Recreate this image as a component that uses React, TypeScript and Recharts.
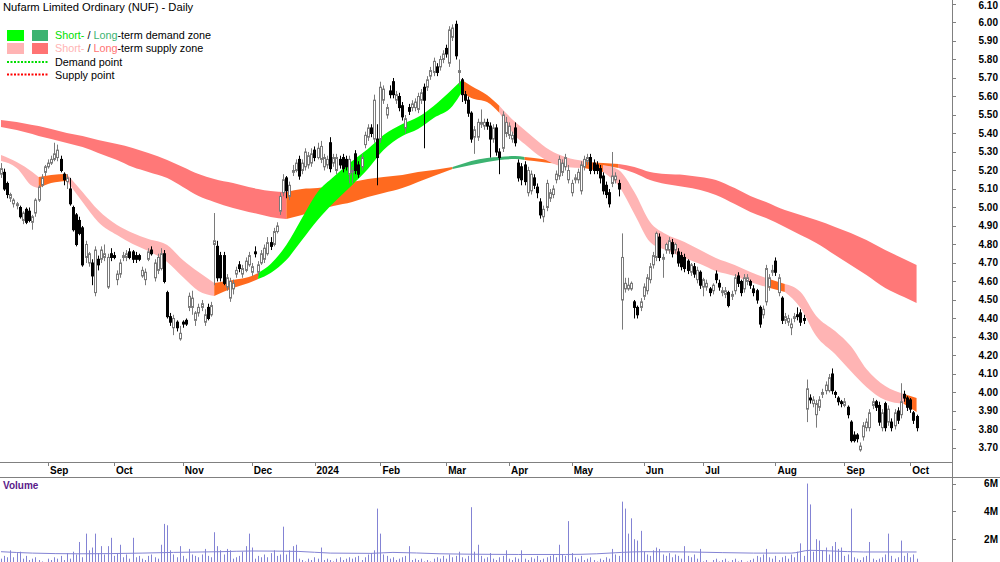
import React from "react";
import { ComposedChart, Bar, Area, Line, XAxis, YAxis } from "recharts";

// daily candles, Aug 11 2023 .. Oct 3 2024: [open, high, low, close]
const ohlc: [number, number, number, number][] = [
  [5.18,5.24,5.16,5.21],[5.19,5.21,5.09,5.10],[5.13,5.14,5.05,5.07],[5.05,5.08,5.03,5.07],[5.02,5.05,5.00,5.04],[5.01,5.03,4.99,5.02],[5.00,5.01,4.94,4.95],[4.93,4.98,4.91,4.97],[4.99,5.00,4.91,4.92],[4.98,5.00,4.92,4.93],
  [4.92,4.96,4.88,4.95],[4.97,5.05,4.95,5.04],[5.04,5.12,5.03,5.11],[5.12,5.18,5.11,5.16],[5.19,5.23,5.17,5.22],[5.22,5.26,5.21,5.24],[5.24,5.28,5.23,5.26],[5.26,5.35,5.25,5.29],[5.27,5.34,5.25,5.31],[5.26,5.28,5.19,5.20],
  [5.18,5.19,5.12,5.15],[5.14,5.18,5.10,5.16],[5.10,5.16,5.01,5.02],[5.00,5.01,4.87,4.88],[4.96,4.97,4.79,4.80],[4.93,4.95,4.85,4.86],[4.89,4.90,4.68,4.69],[4.73,4.82,4.70,4.80],[4.70,4.76,4.68,4.75],[4.70,4.72,4.58,4.63],
  [4.54,4.79,4.52,4.77],[4.72,4.74,4.66,4.69],[4.72,4.79,4.70,4.77],[4.73,4.80,4.71,4.75],[4.57,4.75,4.56,4.73],[4.75,4.78,4.71,4.73],[4.74,4.76,4.72,4.73],[4.61,4.66,4.58,4.64],[4.64,4.72,4.62,4.70],[4.73,4.76,4.71,4.74],
  [4.73,4.77,4.71,4.75],[4.76,4.78,4.72,4.73],[4.76,4.77,4.70,4.72],[4.74,4.76,4.70,4.72],[4.74,4.75,4.71,4.72],[4.63,4.68,4.62,4.66],[4.61,4.67,4.58,4.65],[4.72,4.78,4.71,4.76],[4.77,4.79,4.74,4.75],[4.62,4.72,4.60,4.70],
  [4.66,4.75,4.64,4.73],[4.67,4.78,4.66,4.75],[4.75,4.77,4.59,4.60],[4.54,4.55,4.40,4.41],[4.41,4.43,4.36,4.38],[4.35,4.42,4.31,4.40],[4.38,4.39,4.33,4.35],[4.29,4.36,4.28,4.32],[4.38,4.39,4.35,4.37],[4.39,4.40,4.36,4.37],
  [4.46,4.54,4.44,4.52],[4.46,4.55,4.42,4.51],[4.39,4.44,4.36,4.43],[4.43,4.48,4.41,4.46],[4.46,4.50,4.44,4.48],[4.38,4.45,4.36,4.42],[4.46,4.48,4.39,4.40],[4.42,4.49,4.41,4.47],[4.80,4.97,4.58,4.82],[4.79,4.82,4.60,4.62],
  [4.74,4.76,4.60,4.62],[4.74,4.76,4.58,4.59],[4.57,4.64,4.55,4.62],[4.51,4.62,4.49,4.60],[4.56,4.61,4.53,4.59],[4.64,4.68,4.62,4.66],[4.69,4.71,4.65,4.67],[4.64,4.69,4.62,4.67],[4.66,4.73,4.65,4.71],[4.69,4.76,4.68,4.74],
  [4.65,4.70,4.63,4.68],[4.76,4.79,4.73,4.75],[4.65,4.71,4.63,4.69],[4.70,4.77,4.69,4.75],[4.72,4.80,4.70,4.78],[4.75,4.84,4.74,4.81],[4.81,4.84,4.77,4.79],[4.80,4.89,4.79,4.87],[4.87,4.92,4.86,4.90],[4.98,5.08,4.96,5.06],
  [5.08,5.18,5.06,5.15],[5.16,5.17,5.05,5.09],[5.06,5.14,5.04,5.12],[5.19,5.23,5.17,5.20],[5.20,5.26,5.19,5.24],[5.26,5.28,5.15,5.17],[5.20,5.26,5.18,5.24],[5.22,5.32,5.20,5.30],[5.23,5.30,5.21,5.28],[5.24,5.32,5.22,5.29],
  [5.31,5.33,5.25,5.27],[5.27,5.35,5.26,5.32],[5.26,5.36,5.24,5.33],[5.22,5.29,5.20,5.27],[5.23,5.28,5.21,5.26],[5.35,5.38,5.19,5.21],[5.24,5.29,5.22,5.27],[5.20,5.29,5.18,5.27],[5.26,5.28,5.21,5.23],[5.27,5.29,5.19,5.21],
  [5.26,5.28,5.20,5.22],[5.18,5.28,5.13,5.26],[5.19,5.22,5.13,5.20],[5.29,5.31,5.18,5.20],[5.23,5.25,5.16,5.18],[5.22,5.29,5.20,5.27],[5.34,5.41,5.32,5.39],[5.38,5.45,5.36,5.43],[5.43,5.45,5.38,5.40],[5.37,5.61,5.35,5.58],
  [5.37,5.45,5.12,5.27],[5.37,5.68,5.35,5.65],[5.58,5.66,5.56,5.64],[5.50,5.56,5.48,5.54],[5.63,5.66,5.59,5.61],[5.68,5.70,5.59,5.61],[5.58,5.63,5.56,5.61],[5.60,5.62,5.52,5.54],[5.55,5.57,5.47,5.49],[5.43,5.50,5.40,5.48],
  [5.54,5.56,5.50,5.52],[5.54,5.58,5.52,5.56],[5.54,5.59,5.52,5.57],[5.53,5.62,5.51,5.60],[5.58,5.64,5.56,5.62],[5.65,5.67,5.32,5.58],[5.65,5.71,5.63,5.69],[5.71,5.76,5.69,5.74],[5.73,5.81,5.71,5.79],[5.76,5.78,5.71,5.73],
  [5.76,5.82,5.74,5.80],[5.80,5.85,5.78,5.83],[5.86,5.88,5.81,5.83],[5.78,5.98,5.76,5.96],[5.92,5.99,5.90,5.97],[5.99,6.01,5.80,5.82],[5.73,5.80,5.66,5.74],[5.69,5.70,5.57,5.61],[5.61,5.63,5.56,5.58],[5.58,5.60,5.49,5.51],
  [5.51,5.52,5.35,5.37],[5.38,5.44,5.29,5.42],[5.38,5.48,5.36,5.46],[5.45,5.53,5.43,5.46],[5.44,5.48,5.42,5.46],[5.46,5.48,5.42,5.44],[5.44,5.46,5.27,5.37],[5.37,5.45,5.35,5.43],[5.43,5.45,5.28,5.30],[5.30,5.32,5.18,5.27],
  [5.32,5.52,5.30,5.50],[5.40,5.49,5.38,5.46],[5.39,5.46,5.37,5.44],[5.37,5.41,5.35,5.39],[5.43,5.46,5.33,5.35],[5.24,5.26,5.14,5.16],[5.22,5.24,5.12,5.15],[5.23,5.25,5.12,5.14],[5.08,5.22,5.06,5.20],[5.09,5.20,5.07,5.18],
  [5.16,5.18,5.10,5.12],[5.11,5.13,5.05,5.08],[5.03,5.05,4.94,4.96],[4.95,5.01,4.92,4.99],[5.00,5.15,4.98,5.13],[5.05,5.10,5.03,5.08],[5.07,5.12,5.05,5.10],[5.15,5.20,5.13,5.18],[5.17,5.28,5.15,5.26],[5.19,5.26,5.17,5.24],
  [5.22,5.29,5.20,5.27],[5.15,5.23,5.13,5.20],[5.08,5.15,5.06,5.13],[5.15,5.18,5.13,5.16],[5.15,5.21,5.13,5.19],[5.09,5.25,5.07,5.23],[5.22,5.28,5.20,5.26],[5.25,5.29,5.23,5.27],[5.27,5.29,5.18,5.20],[5.24,5.26,5.18,5.20],
  [5.23,5.25,5.18,5.20],[5.21,5.23,5.13,5.16],[5.17,5.19,5.07,5.09],[5.12,5.14,5.05,5.07],[5.08,5.10,5.00,5.02],[5.13,5.30,5.11,5.17],[5.15,5.19,5.13,5.17],[5.13,5.15,5.06,5.10],[4.50,4.86,4.34,4.73],[4.56,4.62,4.54,4.59],
  [4.56,4.62,4.55,4.58],[4.56,4.60,4.55,4.59],[4.49,4.50,4.40,4.46],[4.46,4.47,4.40,4.42],[4.46,4.51,4.44,4.49],[4.52,4.59,4.50,4.57],[4.55,4.64,4.53,4.62],[4.61,4.70,4.59,4.68],[4.69,4.76,4.67,4.74],[4.73,4.87,4.71,4.86],
  [4.84,4.86,4.71,4.73],[4.72,4.75,4.62,4.73],[4.77,4.81,4.75,4.80],[4.77,4.84,4.75,4.82],[4.81,4.83,4.73,4.75],[4.77,4.81,4.75,4.80],[4.76,4.78,4.68,4.70],[4.74,4.76,4.66,4.68],[4.73,4.75,4.65,4.67],[4.71,4.72,4.64,4.66],
  [4.65,4.70,4.63,4.69],[4.68,4.70,4.62,4.64],[4.61,4.68,4.59,4.66],[4.65,4.66,4.56,4.58],[4.57,4.62,4.52,4.61],[4.57,4.61,4.55,4.59],[4.56,4.57,4.52,4.54],[4.55,4.59,4.53,4.58],[4.64,4.66,4.59,4.61],[4.59,4.61,4.55,4.57],
  [4.54,4.57,4.52,4.55],[4.53,4.57,4.51,4.55],[4.54,4.55,4.46,4.47],[4.52,4.55,4.50,4.53],[4.55,4.64,4.53,4.62],[4.63,4.65,4.57,4.59],[4.60,4.61,4.52,4.54],[4.56,4.64,4.54,4.62],[4.60,4.64,4.58,4.62],[4.60,4.61,4.56,4.58],
  [4.56,4.58,4.52,4.54],[4.55,4.56,4.48,4.50],[4.46,4.47,4.35,4.37],[4.42,4.47,4.40,4.45],[4.49,4.69,4.47,4.67],[4.57,4.64,4.55,4.62],[4.65,4.69,4.63,4.66],[4.71,4.73,4.63,4.65],[4.54,4.64,4.52,4.62],[4.51,4.52,4.37,4.39],
  [4.39,4.43,4.37,4.41],[4.38,4.42,4.36,4.40],[4.35,4.40,4.31,4.37],[4.40,4.43,4.38,4.41],[4.42,4.46,4.39,4.41],[4.43,4.45,4.36,4.38],[4.40,4.42,4.37,4.39],[3.91,4.07,3.84,4.02],[3.97,3.99,3.94,3.96],[3.94,3.98,3.92,3.96],
  [3.88,3.96,3.81,3.94],[3.92,3.98,3.90,3.96],[3.99,4.02,3.97,4.00],[4.01,4.06,3.99,4.04],[4.01,4.10,4.00,4.08],[4.10,4.13,3.99,4.01],[4.00,4.01,3.97,3.99],[3.97,3.98,3.93,3.95],[3.95,3.96,3.92,3.94],[3.93,3.97,3.92,3.95],
  [3.92,3.93,3.86,3.88],[3.84,3.85,3.73,3.74],[3.77,3.79,3.73,3.74],[3.77,3.78,3.73,3.75],[3.69,3.73,3.68,3.71],[3.76,3.84,3.74,3.82],[3.81,3.86,3.79,3.84],[3.81,3.91,3.79,3.89],[3.93,3.97,3.91,3.95],[3.95,3.96,3.90,3.92],
  [3.93,3.95,3.82,3.84],[3.81,3.91,3.79,3.89],[3.94,3.95,3.79,3.81],[3.84,3.93,3.82,3.91],[3.84,3.86,3.79,3.81],[3.82,3.91,3.80,3.89],[3.90,3.92,3.83,3.85],[3.88,4.05,3.86,3.95],[3.99,4.01,3.95,3.97],[3.97,3.98,3.90,3.92],
  [3.96,3.97,3.89,3.91],[3.89,3.90,3.83,3.85],[3.87,3.88,3.79,3.81],
];

// daily volume, millions of shares
const volumes = [
  0.6,0.8,0.7,1.2,0.7,1.0,1.1,0.6,0.8,0.5, 0.6,0.7,0.5,0.4,0.3,0.6,0.5,0.7,0.6,0.8,
  0.5,1.0,0.6,1.1,0.9,1.8,0.7,2.4,1.2,1.4, 2.4,1.0,1.5,0.9,1.5,2.1,0.8,1.0,1.6,0.7,
  0.9,0.6,2.1,0.7,0.8,0.6,0.5,0.8,0.9,0.7, 0.6,1.6,3.1,3.0,1.2,0.9,0.7,1.5,0.8,0.6,
  1.3,0.9,0.8,0.7,0.9,1.3,0.8,0.7,2.5,1.5, 1.2,0.9,1.3,1.2,0.6,0.7,0.8,1.1,1.5,2.4,
  1.4,0.6,0.8,0.7,0.9,0.7,1.0,1.2,0.8,0.9, 2.9,0.9,1.2,1.5,1.6,0.6,0.5,0.4,0.6,0.5,
  0.7,0.6,1.4,0.5,0.6,0.5,0.4,0.6,0.7,0.5, 0.6,0.7,0.6,0.7,0.8,0.5,0.7,0.9,1.0,1.2,
  4.2,2.4,0.9,0.8,0.6,0.7,0.5,0.6,0.7,0.8, 1.5,0.5,0.6,0.5,0.6,0.4,0.5,0.4,0.6,0.7,
  0.6,0.8,0.6,0.9,0.7,0.8,1.1,0.7,0.6,0.8, 4.3,1.1,1.6,0.8,0.6,0.7,1.0,0.6,0.5,0.7,
  0.8,1.2,0.6,0.5,0.7,0.6,1.2,0.6,0.5,0.7, 0.6,0.8,0.5,0.6,0.7,0.8,0.9,0.7,1.6,0.9,
  0.8,3.3,1.0,0.7,0.6,0.8,0.5,0.6,0.7,0.5, 0.4,0.6,0.5,0.7,0.6,1.3,0.9,0.8,4.7,4.2,
  2.4,3.5,2.0,1.9,2.6,1.1,0.9,0.8,1.2,1.4, 1.3,0.9,0.8,1.0,0.7,0.9,0.8,0.6,1.5,0.8,
  0.7,0.9,0.6,1.3,0.4,0.5,0.3,0.5,0.6,0.4, 0.5,0.6,0.4,0.5,0.6,0.4,0.5,0.3,0.4,0.5,
  0.6,0.8,0.7,0.9,1.3,0.7,0.6,0.8,0.5,0.7, 0.8,0.6,0.9,0.7,1.1,1.7,0.8,6.0,4.5,1.1,
  2.0,1.9,1.2,1.4,0.9,1.5,1.8,1.3,1.4,0.8, 0.9,4.2,0.7,0.6,0.5,0.7,0.8,1.8,0.6,0.5,
  0.6,0.7,0.9,2.4,0.8,0.6,0.7,1.9,0.8,1.0, 0.7,0.9,0.6,
];

// volume moving average, read at a few days
const volAvgIdx = [0, 10, 25, 45, 55, 70, 80, 95, 105, 118, 125, 140, 150, 165, 180, 190, 198, 205, 220, 240, 252, 258, 265, 275, 292];
const volAvg = [1.1, 1.0, 0.95, 1.0, 1.05, 1.1, 1.15, 1.12, 1.0, 0.98, 1.05, 0.95, 0.92, 0.9, 0.9, 0.95, 1.05, 1.1, 1.08, 1.0, 1.0, 1.2, 1.15, 1.08, 1.08];

// demand / supply bands, read at these days
const bandIdx = [0,5,10,12,16,21,26,31,37,42,47,53,58,63,68,74,79,82,86,91,96,101,106,112,117,122,128,133,138,144,147,150,155,159,164,167,170,175,180,186,192,197,202,207,212,218,223,228,234,239,244,250,255,260,266,271,276,282,288,292];
const stUpper = [5.284,5.246,5.192,5.165,5.176,5.181,5.084,4.986,4.905,4.862,4.830,4.797,4.716,4.651,4.592,4.608,4.624,4.646,4.695,4.797,4.943,5.084,5.165,5.251,5.316,5.392,5.451,5.489,5.549,5.641,5.689,5.657,5.608,5.549,5.462,5.419,5.376,5.311,5.273,5.251,5.230,5.203,5.084,4.922,4.857,4.814,4.770,4.727,4.689,4.651,4.619,4.587,4.543,4.414,4.332,4.251,4.127,4.035,3.992,3.970];
const stLower = [5.251,5.214,5.116,5.105,5.132,5.143,5.030,4.922,4.851,4.803,4.765,4.705,4.624,4.549,4.522,4.565,4.592,4.613,4.646,4.716,4.824,4.932,5.024,5.122,5.208,5.311,5.387,5.424,5.484,5.549,5.624,5.592,5.570,5.511,5.387,5.343,5.300,5.246,5.219,5.214,5.192,5.116,4.965,4.813,4.770,4.727,4.695,4.657,4.630,4.597,4.570,4.543,4.457,4.305,4.208,4.116,4.030,3.959,3.938,3.895];
const ltUpper = [5.473,5.462,5.446,5.441,5.424,5.403,5.387,5.365,5.343,5.322,5.295,5.257,5.219,5.181,5.154,5.132,5.111,5.100,5.089,5.084,5.100,5.105,5.122,5.138,5.154,5.165,5.176,5.192,5.203,5.219,5.235,5.251,5.268,5.273,5.278,5.273,5.268,5.257,5.251,5.246,5.241,5.235,5.219,5.192,5.181,5.176,5.165,5.149,5.105,5.062,5.030,4.986,4.959,4.932,4.895,4.862,4.824,4.770,4.722,4.689];
const ltLower = [5.435,5.419,5.397,5.387,5.370,5.349,5.327,5.295,5.257,5.219,5.192,5.159,5.111,5.062,5.030,4.997,4.976,4.965,4.949,4.938,4.959,4.986,5.008,5.030,5.057,5.078,5.105,5.138,5.170,5.208,5.219,5.230,5.246,5.257,5.262,5.257,5.251,5.241,5.235,5.230,5.224,5.214,5.187,5.149,5.127,5.111,5.095,5.068,5.019,4.976,4.943,4.895,4.851,4.808,4.743,4.689,4.635,4.565,4.516,4.484];

const GREEN = "#00ff00";
const DARK_GREEN = "#3cb371";
const PINK = "#ffb4b4";
const RED = "#ff7878";
const ORANGE = "#ff6a1f";

const stZones = [
  { from: 0, to: 12, color: PINK }, { from: 12, to: 21, color: ORANGE }, { from: 21, to: 68, color: PINK },
  { from: 68, to: 82, color: ORANGE }, { from: 82, to: 147, color: GREEN }, { from: 147, to: 159, color: ORANGE },
  { from: 159, to: 186, color: PINK }, { from: 186, to: 192, color: ORANGE }, { from: 192, to: 244, color: PINK },
  { from: 244, to: 250, color: ORANGE }, { from: 250, to: 288, color: PINK }, { from: 288, to: 292, color: ORANGE },
];
const ltZones = [
  { from: 0, to: 91, color: RED }, { from: 91, to: 144, color: ORANGE }, { from: 144, to: 167, color: DARK_GREEN },
  { from: 167, to: 197, color: ORANGE }, { from: 197, to: 292, color: RED },
];

const monthTickIdx = [15, 36, 58, 80, 100, 121, 142, 162, 182, 205, 224, 247, 269, 290];
const monthLabels = ["Sep", "Oct", "Nov", "Dec", "2024", "Feb", "Mar", "Apr", "May", "Jun", "Jul", "Aug", "Sep", "Oct"];
const priceTicks = [3.7, 3.8, 3.9, 4.0, 4.1, 4.2, 4.3, 4.4, 4.5, 4.6, 4.7, 4.8, 4.9, 5.0, 5.1, 5.2, 5.3, 5.4, 5.5, 5.6, 5.7, 5.8, 5.9, 6.0, 6.1];
const volumeTicks = [2, 4, 6];

const FONT = "'Liberation Sans', Arial, sans-serif";
const X_DOMAIN: [number, number] = [-0.32, 303.3];

const rows = ohlc.map(([o, h, l, c], i) => ({ i, o, h, l, c, range: [l, h], vol: volumes[i] }));
const bandRows = bandIdx.map((i, k) => ({ i, st: [stLower[k], stUpper[k]], lt: [ltLower[k], ltUpper[k]] }));
const segment = (from: number, to: number) => bandRows.filter((r) => r.i >= from && r.i <= to);
const avgRows = volAvgIdx.map((i, k) => ({ i, va: volAvg[k] }));

const Candle = (props: any) => {
  const { x, width, y, height, payload } = props;
  if (!payload) return null;
  const { o, h, l, c } = payload;
  const top = height >= 0 ? y : y + height;
  const span = Math.abs(height);
  const py = (p: number) => top + ((h - p) / (h - l)) * span;
  const cx = Math.round(x + width / 2) + 0.5;
  const up = c >= o;
  const b1 = py(Math.max(o, c));
  const b2 = py(Math.min(o, c));
  const col = up ? "#7a7a7a" : "#000";
  return (
    <g>
      <line x1={cx} x2={cx} y1={top} y2={top + span} stroke={col} strokeWidth={1} />
      <rect x={cx - 1} y={b1} width={2} height={Math.max(b2 - b1, 1)} fill={up ? "#fff" : "#000"} stroke={col} strokeWidth={1} />
    </g>
  );
};

const VolBar = (props: any) => {
  const { x, width, y, height } = props;
  const cx = Math.round(x + width / 2);
  return <rect x={cx} y={y} width={1} height={Math.max(height, 0)} fill="#8383d4" />;
};

const PriceTick = (props: any) => {
  const { y, payload } = props;
  const yy = Math.round(y) + 0.5;
  return (
    <g>
      <line x1={952} x2={956} y1={yy} y2={yy} stroke="#808080" />
      <text x={998} y={Math.max(y + 3.5, 8.5)} textAnchor="end" fontSize={10} fontWeight="bold" fontFamily={FONT} fill="#000">
        {Number(payload.value).toFixed(2)}
      </text>
    </g>
  );
};

const VolumeTick = (props: any) => {
  const { y, payload } = props;
  const yy = Math.round(y) + 0.5;
  return (
    <g>
      <line x1={952} x2={956} y1={yy} y2={yy} stroke="#808080" />
      <text x={998} y={y + 3.5} textAnchor="end" fontSize={10} fontWeight="bold" fontFamily={FONT} fill="#000">
        {payload.value}M
      </text>
    </g>
  );
};

const MonthTick = (props: any) => {
  const { x, payload } = props;
  const k = monthTickIdx.indexOf(payload.value);
  const xx = Math.round(x) + 0.5;
  return (
    <g>
      <line x1={xx} x2={xx} y1={462} y2={466} stroke="#808080" />
      <text x={x + 2} y={474} fontSize={10} fontWeight="bold" fontFamily={FONT} fill="#000">
        {monthLabels[k]}
      </text>
    </g>
  );
};

export default function App() {
  return (
    <div style={{ position: "absolute", left: 0, top: 0, width: 1000, height: 562, overflow: "hidden", background: "#fff" }}>
      <div style={{ position: "absolute", left: 0, top: 0 }}>
        <ComposedChart width={1000} height={478} data={rows} margin={{ top: 0, right: 0, bottom: 0, left: 0 }}>
          <XAxis
            dataKey="i"
            type="number"
            domain={X_DOMAIN}
            allowDataOverflow
            ticks={monthTickIdx}
            interval={0}
            tick={<MonthTick />}
            tickLine={false}
            tickSize={0}
            tickMargin={0}
            axisLine={false}
            height={16}
          />
          <YAxis
            orientation="right"
            type="number"
            domain={[3.6243, 6.1216]}
            allowDataOverflow
            ticks={priceTicks}
            interval={0}
            tick={<PriceTick />}
            tickLine={false}
            tickSize={0}
            tickMargin={0}
            axisLine={false}
            width={48}
          />
          {ltZones.map((z, k) => (
            <Area
              key={"lt" + k}
              data={segment(z.from, z.to)}
              dataKey="lt"
              type="monotone"
              fill={z.color}
              fillOpacity={1}
              stroke="none"
              dot={false}
              activeDot={false}
              isAnimationActive={false}
            />
          ))}
          {stZones.map((z, k) => (
            <Area
              key={"st" + k}
              data={segment(z.from, z.to)}
              dataKey="st"
              type="monotone"
              fill={z.color}
              fillOpacity={1}
              stroke="none"
              dot={false}
              activeDot={false}
              isAnimationActive={false}
            />
          ))}
          <Bar dataKey="range" barSize={3} shape={<Candle />} isAnimationActive={false} />
        </ComposedChart>
      </div>
      <div style={{ position: "absolute", left: 0, top: 478 }}>
        <ComposedChart width={1000} height={89} data={rows} margin={{ top: 0, right: 0, bottom: 0, left: 0 }}>
          <XAxis dataKey="i" type="number" domain={X_DOMAIN} allowDataOverflow hide height={0} />
          <YAxis
            orientation="right"
            type="number"
            domain={[0, 6.4]}
            allowDataOverflow
            ticks={volumeTicks}
            interval={0}
            tick={<VolumeTick />}
            tickLine={false}
            tickSize={0}
            tickMargin={0}
            axisLine={false}
            width={48}
          />
          <Bar dataKey="vol" barSize={1} shape={<VolBar />} isAnimationActive={false} />
          <Line
            data={avgRows}
            dataKey="va"
            type="monotone"
            stroke="#8383d4"
            strokeWidth={1}
            dot={false}
            activeDot={false}
            isAnimationActive={false}
          />
        </ComposedChart>
      </div>
      <svg width={1000} height={562} style={{ position: "absolute", left: 0, top: 0, pointerEvents: "none" }}>
        <line x1={952.5} x2={952.5} y1={0} y2={562} stroke="#808080" />
        <line x1={0} x2={952} y1={462.5} y2={462.5} stroke="#808080" />
        <line x1={0} x2={1000} y1={477.5} y2={477.5} stroke="#808080" />
        <text x={3} y={11} fontSize={11.2} fontFamily={FONT} fill="#000">Nufarm Limited Ordinary (NUF) - Daily</text>
        <rect x={7} y={30} width={17} height={11} fill={GREEN} />
        <rect x={32} y={30} width={16} height={11} fill={DARK_GREEN} />
        <text x={55} y={39} fontSize={10.8} fontFamily={FONT} fill="#000">
          <tspan fill="#00e000">Short-</tspan> / <tspan fill={DARK_GREEN}>Long</tspan>-term demand zone
        </text>
        <rect x={7} y={43} width={17} height={11} fill={PINK} />
        <rect x={32} y={43} width={16} height={11} fill="#ff7373" />
        <text x={55} y={52} fontSize={10.8} fontFamily={FONT} fill="#000">
          <tspan fill={PINK}>Short-</tspan> / <tspan fill="#ff7373">Long</tspan>-term supply zone
        </text>
        <line x1={7} x2={48} y1={62} y2={62} stroke="#00dd00" strokeWidth={2} strokeDasharray="2 1.5" />
        <text x={55} y={66} fontSize={10.8} fontFamily={FONT} fill="#000">Demand point</text>
        <line x1={7} x2={48} y1={74.5} y2={74.5} stroke="#ff0000" strokeWidth={2} strokeDasharray="2 1.5" />
        <text x={55} y={79} fontSize={10.8} fontFamily={FONT} fill="#000">Supply point</text>
        <text x={3} y={489} fontSize={10} fontWeight="bold" fontFamily={FONT} fill="#5a1a8a">Volume</text>
      </svg>
    </div>
  );
}
